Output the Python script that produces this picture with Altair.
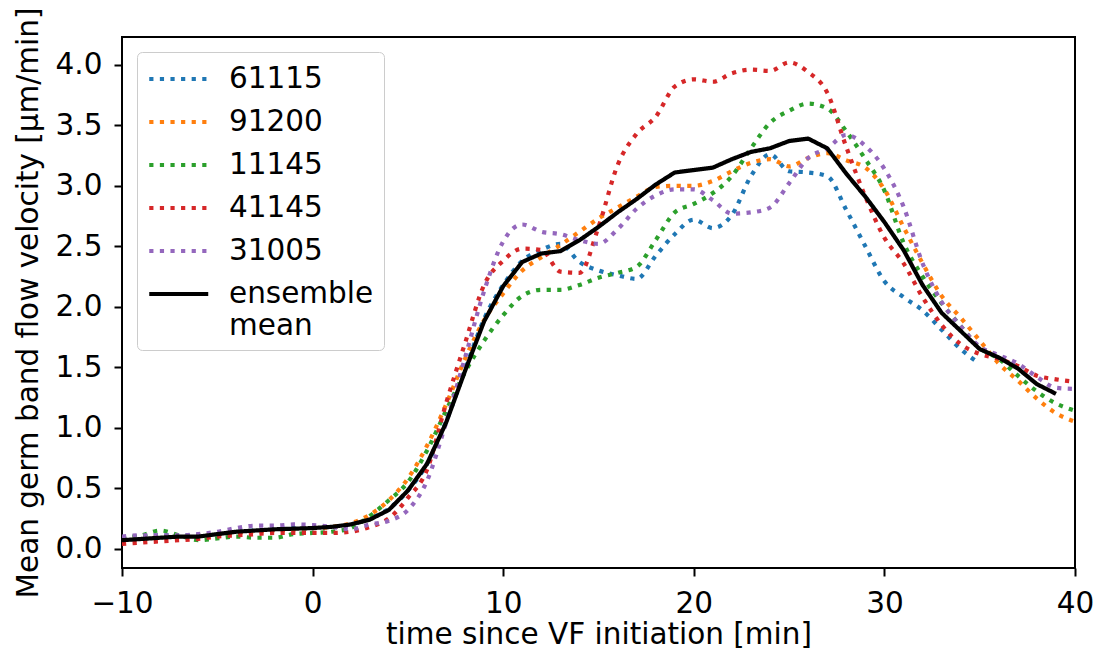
import altair as alt
import pandas as pd

# ---- data ----
minutes = list(range(-10, 41))          # -10 .. 40
minutes_61115 = list(range(-10, 36))    # -10 .. 35
minutes_mean = list(range(-10, 40))     # -10 .. 39

v61115 = [0.09, 0.10, 0.11, 0.11, 0.11, 0.12, 0.14, 0.15, 0.16, 0.17,
          0.17, 0.18, 0.20, 0.25, 0.33, 0.48, 0.70, 1.05, 1.48, 1.90,
          2.18, 2.38, 2.47, 2.52, 2.37, 2.30, 2.26, 2.23, 2.42, 2.60,
          2.72, 2.65, 2.76, 3.08, 3.26, 3.12, 3.11, 3.08, 2.80, 2.50,
          2.21, 2.08, 1.97, 1.81, 1.65, 1.53]

v91200 = [0.08, 0.09, 0.10, 0.10, 0.11, 0.12, 0.13, 0.14, 0.15, 0.16,
          0.17, 0.18, 0.21, 0.28, 0.40, 0.58, 0.85, 1.19, 1.57, 1.89,
          2.11, 2.30, 2.41, 2.51, 2.62, 2.73, 2.82, 2.91, 2.99, 3.00,
          3.00, 3.04, 3.12, 3.19, 3.22, 3.16, 3.23, 3.27, 3.21, 3.15,
          2.97, 2.66, 2.36, 2.09, 1.91, 1.72, 1.53, 1.39, 1.24, 1.12,
          1.05]

v11145 = [0.09, 0.11, 0.15, 0.11, 0.07, 0.085, 0.10, 0.09, 0.09, 0.12,
          0.13, 0.14, 0.17, 0.27, 0.40, 0.55, 0.81, 1.14, 1.46, 1.72,
          1.93, 2.09, 2.14, 2.14, 2.18, 2.24, 2.28, 2.33, 2.55, 2.78,
          2.85, 2.94, 3.08, 3.31, 3.52, 3.62, 3.68, 3.64, 3.45, 3.22,
          2.96, 2.53, 2.25, 2.03, 1.84, 1.66, 1.57, 1.43, 1.30, 1.20,
          1.14]

v41145 = [0.04, 0.05, 0.06, 0.07, 0.08, 0.10, 0.11, 0.12, 0.13, 0.13,
          0.13, 0.13, 0.14, 0.18, 0.25, 0.42, 0.65, 1.20, 1.70, 2.18,
          2.38, 2.48, 2.47, 2.29, 2.28, 2.66, 3.17, 3.43, 3.57, 3.82,
          3.88, 3.86, 3.93, 3.96, 3.95, 4.02, 3.94, 3.77, 3.32, 2.91,
          2.57, 2.36, 2.08, 1.85, 1.69, 1.61, 1.57, 1.51, 1.43, 1.40,
          1.38]

v31005 = [0.10, 0.11, 0.11, 0.11, 0.12, 0.14, 0.17, 0.19, 0.19, 0.20,
          0.195, 0.18, 0.16, 0.20, 0.23, 0.32, 0.56, 1.04, 1.58, 2.13,
          2.54, 2.68, 2.62, 2.60, 2.55, 2.52, 2.64, 2.81, 2.92, 2.97,
          2.97, 2.88, 2.77, 2.78, 2.82, 3.02, 3.23, 3.31, 3.42, 3.33,
          3.14, 2.83, 2.36, 2.04, 1.84, 1.67, 1.60, 1.53, 1.42, 1.33,
          1.32]

vmean = [0.07, 0.08, 0.09, 0.10, 0.10, 0.12, 0.14, 0.15, 0.16, 0.165,
         0.17, 0.18, 0.20, 0.24, 0.32, 0.48, 0.70, 1.04, 1.47, 1.88,
         2.17, 2.37, 2.44, 2.46, 2.55, 2.66, 2.78, 2.89, 3.01, 3.11,
         3.13, 3.15, 3.22, 3.28, 3.31, 3.37, 3.39, 3.31, 3.10, 2.91,
         2.70, 2.47, 2.18, 1.95, 1.80, 1.65, 1.58, 1.49, 1.36, 1.28]

series_names = ["61115", "91200", "11145", "41145", "31005", "ensemble mean"]
series_colors = ["#1f77b4", "#ff7f0e", "#2ca02c", "#d62728", "#9467bd", "#000000"]
x_ticks = [-10, 0, 10, 20, 30, 40]
y_ticks = [0.0, 0.5, 1.0, 1.5, 2.0, 2.5, 3.0, 3.5, 4.0]

# ---- build the long table ----
records = []
for name, ts, vs in zip(series_names,
                        [minutes_61115, minutes, minutes, minutes, minutes, minutes_mean],
                        [v61115, v91200, v11145, v41145, v31005, vmean]):
    for t, v in zip(ts, vs):
        records.append({"t": t, "v": v, "series": name})
df = pd.DataFrame(records)

FONT = "DejaVu Sans"
FS = 29.5

legend = alt.Legend(
    title=None, orient="top-left", offset=15,
    symbolType="M-1,0H3", symbolSize=870,
    labelFontSize=FS, labelFont=FONT, labelColor="black",
    padding=10, fillColor="rgba(255,255,255,0.8)", strokeColor="#cccccc",
    cornerRadius=5, rowPadding=11, labelOffset=48, labelLimit=400,
    labelExpr="datum.label == 'ensemble mean' ? ['ensemble', 'mean'] : datum.label",
)

color = alt.Color("series:N", scale=alt.Scale(domain=series_names, range=series_colors), legend=legend)
dash = alt.StrokeDash("series:N",
                      scale=alt.Scale(domain=series_names,
                                      range=[[4.2, 6.4]] * 5 + [[1, 0]]),
                      legend=legend)
swidth = alt.StrokeWidth("series:N",
                         scale=alt.Scale(domain=series_names, range=[4.2, 4.2, 4.2, 4.2, 4.2, 6]),
                         legend=legend)

x = alt.X("t:Q", scale=alt.Scale(domain=[-10, 40], nice=False, zero=False),
          axis=alt.Axis(values=x_ticks, title="time since VF initiation [min]",
                        labelPadding=13, titlePadding=3, labelFlush=False,
                        labelOverlap=False))
y = alt.Y("v:Q", scale=alt.Scale(domain=[-0.16, 4.23], nice=False, zero=False),
          axis=alt.Axis(values=y_ticks, format=".1f",
                        title="Mean germ band flow velocity [μm/min]",
                        labelPadding=12, titlePadding=12, labelOverlap=False))

base = alt.Chart(df)

dotted = base.transform_filter(alt.datum.series != "ensemble mean").mark_line(
    interpolate="monotone", clip=True, strokeCap="butt"
).encode(x=x, y=y, color=color, strokeDash=dash, strokeWidth=swidth, detail="series:N")

mean_line = base.transform_filter(alt.datum.series == "ensemble mean").mark_line(
    clip=True, strokeJoin="round"
).encode(x=x, y=y, color=color, strokeDash=dash, strokeWidth=swidth)

chart = alt.layer(dotted, mean_line).properties(
    width=953, height=531,
    padding={"left": 114, "top": 29, "right": 25, "bottom": 84},
    autosize=alt.AutoSizeParams(type="none"),
).configure(font=FONT).configure_view(
    stroke="black", strokeWidth=2, fill="white"
).configure_axis(
    domain=False, grid=False, ticks=True, tickSize=8, tickWidth=2, tickColor="black",
    labelFont=FONT, labelFontSize=FS, labelColor="black",
    titleFont=FONT, titleFontSize=FS, titleFontWeight="normal", titleColor="black",
)

chart.save("out.html", embed_options={"renderer": "svg", "actions": False})
